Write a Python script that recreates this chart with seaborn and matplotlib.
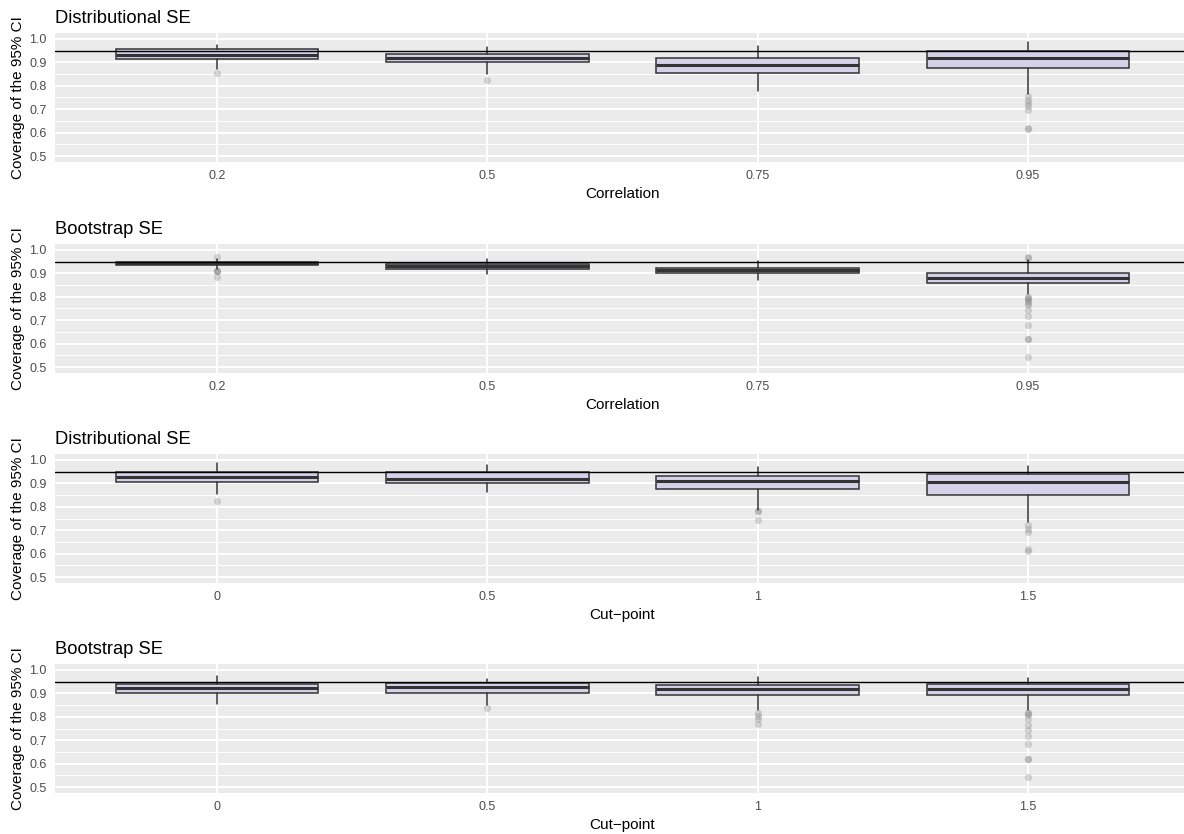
import numpy as np
import pandas as pd
import seaborn as sns
import matplotlib.pyplot as plt

# category labels
corr_labels = ["0.2", "0.5", "0.75", "0.95"]
cut_labels = ["0", "0.5", "1", "1.5"]

# panel 1 - distributional SE vs correlation (box stats)
dc_lo = [0.873, 0.852, 0.776, 0.765]
dc_q1 = [0.915, 0.900, 0.856, 0.876]
dc_med = [0.933, 0.917, 0.890, 0.920]
dc_q3 = [0.956, 0.937, 0.919, 0.950]
dc_hi = [0.974, 0.964, 0.971, 0.988]
dc_out = [[0.855], [0.823], [], [0.755, 0.741, 0.727, 0.712, 0.695, 0.620, 0.615]]

# panel 2 - bootstrap SE vs correlation
bc_lo = [0.918, 0.897, 0.872, 0.810]
bc_q1 = [0.936, 0.919, 0.900, 0.857]
bc_med = [0.942, 0.930, 0.913, 0.879]
bc_q3 = [0.949, 0.940, 0.923, 0.900]
bc_hi = [0.962, 0.962, 0.954, 0.958]
bc_out = [[0.969, 0.912, 0.910, 0.908, 0.886], [], [],
          [0.970, 0.967, 0.800, 0.795, 0.790, 0.780, 0.775, 0.766, 0.744,
           0.718, 0.680, 0.620, 0.618, 0.545]]

# panel 3 - distributional SE vs cut-point
dk_lo = [0.854, 0.865, 0.788, 0.736]
dk_q1 = [0.905, 0.900, 0.874, 0.851]
dk_med = [0.927, 0.920, 0.910, 0.907]
dk_q3 = [0.950, 0.950, 0.931, 0.939]
dk_hi = [0.988, 0.979, 0.971, 0.974]
dk_out = [[0.823], [], [0.782, 0.780, 0.742], [0.721, 0.707, 0.692, 0.620, 0.612]]

# panel 4 - bootstrap SE vs cut-point
bk_lo = [0.854, 0.850, 0.829, 0.829]
bk_q1 = [0.900, 0.900, 0.892, 0.893]
bk_med = [0.924, 0.928, 0.918, 0.920]
bk_q3 = [0.939, 0.943, 0.936, 0.939]
bk_hi = [0.974, 0.960, 0.968, 0.967]
bk_out = [[], [0.838], [0.818, 0.804, 0.790, 0.768],
          [0.818, 0.815, 0.807, 0.790, 0.766, 0.745, 0.719, 0.683, 0.620, 0.620, 0.543]]

panels = [
    ("Distributional SE", "Correlation", corr_labels, dc_lo, dc_q1, dc_med, dc_q3, dc_hi, dc_out),
    ("Bootstrap SE", "Correlation", corr_labels, bc_lo, bc_q1, bc_med, bc_q3, bc_hi, bc_out),
    ("Distributional SE", "Cut\u2212point", cut_labels, dk_lo, dk_q1, dk_med, dk_q3, dk_hi, dk_out),
    ("Bootstrap SE", "Cut\u2212point", cut_labels, bk_lo, bk_q1, bk_med, bk_q3, bk_hi, bk_out),
]

sns.set_theme(style="darkgrid", rc={"axes.facecolor": "#EBEBEB", "grid.color": "white",
                                    "figure.facecolor": "white"})
plt.rcParams['font.family'] = ['Liberation Sans', 'DejaVu Sans']

W, H = 1184, 834
fig = plt.figure(figsize=(W / 100, H / 100), dpi=100)

tops = [33, 244, 454, 664]
ph = 129
left, right = 55, 1190

for (title, xlab, labels, lo, q1, med, q3, hi, out), top in zip(panels, tops):
    ax = fig.add_axes([left / W, 1 - (top + ph) / H, (right - left) / W, ph / H])

    # outlier points
    fx, fy = [], []
    for lab, vals in zip(labels, out):
        fx += [lab] * len(vals)
        fy += vals
    sns.stripplot(x=fx, y=fy, order=labels, jitter=False, color="gray", alpha=0.3,
                  size=5.2, linewidth=0, ax=ax, zorder=2)

    stats = [dict(whislo=a, q1=b, med=c, q3=d, whishi=e, fliers=[])
             for a, b, c, d, e in zip(lo, q1, med, q3, hi)]
    ax.bxp(stats, positions=range(len(labels)), widths=0.75, patch_artist=True,
           showfliers=False, showcaps=False, manage_ticks=False,
           boxprops=dict(facecolor="#D4D1E8", edgecolor="#333333", linewidth=1.1),
           medianprops=dict(color="#333333", linewidth=2.2),
           whiskerprops=dict(color="#333333", linewidth=1.1))

    ax.axhline(0.95, color="black", lw=1.0, zorder=5)

    ax.set_xlim(-0.6, len(labels) - 0.4)
    ax.set_ylim(0.475, 1.025)
    ax.set_xticks(range(len(labels)))
    ax.set_xticklabels(labels)
    ax.set_yticks([0.5, 0.6, 0.7, 0.8, 0.9, 1.0])
    ax.set_yticklabels(["0.5", "0.6", "0.7", "0.8", "0.9", "1.0"])
    ax.set_yticks([0.55, 0.65, 0.75, 0.85, 0.95], minor=True)
    ax.grid(True, which="major", color="white", lw=1.4)
    ax.grid(True, which="minor", axis="y", color="white", lw=0.7)
    ax.xaxis.grid(True, which="major", color="white", lw=1.4)
    ax.set_axisbelow(True)
    for s in ax.spines.values():
        s.set_visible(False)
    ax.tick_params(which="major", length=3.9, width=1.0, color="#333333",
                   labelcolor="#4D4D4D", labelsize=9, pad=2.2)
    ax.tick_params(which="minor", length=0)

    ax.set_title(title, loc="left", fontsize=13.2, color="black", pad=7)
    ax.set_xlabel(xlab, fontsize=11, color="black", labelpad=3)
    ax.set_ylabel("Coverage of the 95% CI", fontsize=11, color="black", labelpad=3)

fig.savefig("out.png", dpi=100)
